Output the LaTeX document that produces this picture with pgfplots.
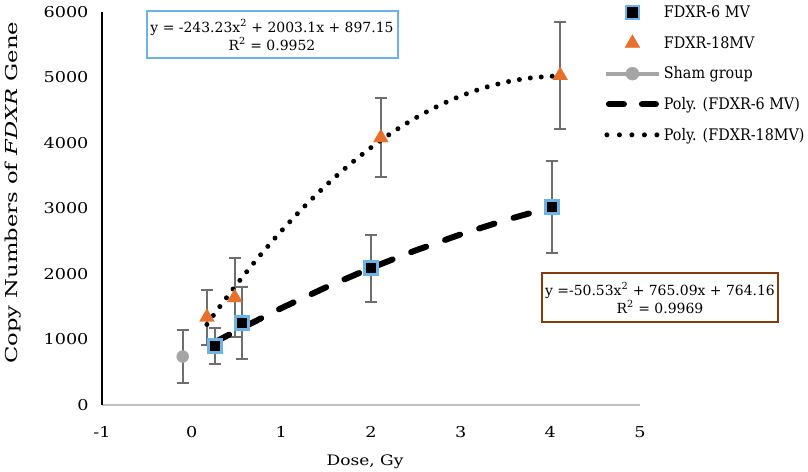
\documentclass[border=0pt]{standalone}
\usepackage{fontspec}
\setmainfont{DejaVu Serif}
\newfontfamily\legfont{DejaVu Serif Condensed}
\newfontfamily\ylabfont{DejaVu Serif}[FakeStretch=1.38]
\newfontfamily\tickfont{DejaVu Serif}[FakeStretch=1.18]
\usepackage{pgfplots}
\usepackage{pgfplotstable}
\pgfplotsset{compat=1.18}
\definecolor{sqblue}{HTML}{6CB4E8}
\definecolor{triorange}{HTML}{E8702A}
\definecolor{errgray}{HTML}{6E6E6E}
\definecolor{shamgray}{HTML}{A5A5A5}
\definecolor{axgray}{HTML}{BFBFBF}
\definecolor{boxbrown}{HTML}{843C0C}

\pgfplotstableread{
x y e
0.26 900 275
0.56 1250 550
2.0 2090 510
4.02 3020 700
}\sixmv
\pgfplotstableread{
x y e
0.17 1340 420
0.48 1640 600
2.11 4080 600
4.11 5030 820
}\eighteenmv
\pgfplotstableread{
x y e
-0.1 740 405
}\sham

\begin{document}
\begin{tikzpicture}
\useasboundingbox (-102bp,-67bp) rectangle (706bp,405bp);
\begin{axis}[
  scale only axis, width=538bp, height=393bp,
  xmin=-1, xmax=5, ymin=0, ymax=6000,
  xtick={-1,0,1,2,3,4,5}, ytick={0,1000,2000,3000,4000,5000,6000},
  axis x line=bottom, axis y line=left,
  x axis line style={draw=axgray, line width=2bp, -},
  y axis line style={draw=black, line width=2bp, -},
  major tick length=0pt,
  /pgf/number format/assume math mode=true,
  /pgf/number format/1000 sep={},
  tick label style={font=\tickfont\fontsize{15}{18}\selectfont},
  xticklabel style={yshift=-18bp},
  yticklabel style={xshift=-10bp},
  xlabel={Dose, Gy},
  xlabel style={font=\tickfont\fontsize{14.5}{17}\selectfont, at={(axis description cs:0.489,-0.145)}, anchor=center},
  ylabel={\ylabfont Copy Numbers of \textit{FDXR} Gene},
  ylabel style={font=\fontsize{16.5}{20}\selectfont, at={(axis description cs:-0.165,0.54)}, anchor=center},
  clip=false,
  legend style={at={(axis description cs:0.927,1.025)}, anchor=north west, draw=none, fill=none,
    font=\legfont\fontsize{16}{19}\selectfont, row sep=14bp, nodes={inner sep=1.5bp}},
  legend cell align=left,
]
% FDXR-6 MV
\addplot[only marks, mark=square*, mark size=6.5bp,
  mark options={fill=black, draw=sqblue, line width=2.4bp},
  legend image code/.code={\draw[mark=square*, mark size=6.5bp, mark options={fill=black, draw=sqblue, line width=2.4bp}] plot coordinates {(26.5bp,0bp)};},
  error bars/.cd, y dir=both, y explicit,
  error bar style={errgray, line width=2bp},
  error mark options={errgray, mark size=6bp, line width=2bp, rotate=90}]
  table[x=x, y=y, y error=e] {\sixmv};
\addlegendentry{FDXR-6 MV}
% FDXR-18MV markers
\addplot[only marks, mark=triangle*, mark size=8.5bp,
  mark options={fill=triorange, draw=triorange},
  legend image code/.code={\draw[mark=triangle*, mark size=8.5bp, mark options={fill=triorange, draw=triorange}] plot coordinates {(26.5bp,0bp)};}]
  table[x=x, y=y] {\eighteenmv};
\addlegendentry{FDXR-18MV}
% Sham
\addplot[only marks, mark=*, mark size=6bp,
  mark options={fill=shamgray, draw=shamgray},
  legend image code/.code={\draw[shamgray, line width=4bp] (0bp,0bp) -- (53bp,0bp); \fill[shamgray] (26.5bp,0bp) circle (6.5bp);},
  error bars/.cd, y dir=both, y explicit,
  error bar style={errgray, line width=2bp},
  error mark options={errgray, mark size=6bp, line width=2bp, rotate=90}]
  table[x=x, y=y, y error=e] {\sham};
\addlegendentry{Sham group}
% FDXR-18MV error bars (over markers)
\addplot[draw=none, mark=none, forget plot,
  error bars/.cd, y dir=both, y explicit,
  error bar style={errgray, line width=2bp},
  error mark options={errgray, mark size=6bp, line width=2bp, rotate=90}]
  table[x=x, y=y, y error=e] {\eighteenmv};
% Poly 6 MV
\addplot[black, line width=6bp, line cap=round, dash pattern=on 16bp off 20bp,
  legend image code/.code={\draw[black, line width=6bp, line cap=round] (3bp,0bp) -- (18bp,0bp) (36bp,0bp) -- (50bp,0bp);}]
  coordinates {(0.26,959.7) (0.5,1134.1) (1.0,1478.7) (1.5,1798.1) (2.0,2092.2) (2.5,2361.1) (3.0,2604.7) (3.5,2823.0) (4.02,3023.5)};
\addlegendentry{Poly. (FDXR-6 MV)}
% Poly 18MV
\addplot[black, line width=5bp, line cap=round, dash pattern=on 0bp off 11bp, smooth,
  legend image code/.code={\draw[black, line width=5bp, line cap=round, dash pattern=on 0bp off 12.5bp] (1bp,0bp) -- (54bp,0bp);}]
  coordinates {(0.17,1230.6) (0.3,1476.2) (0.5,1837.9) (0.75,2262.7) (1.0,2657.0) (1.25,3021.0) (1.5,3354.5) (1.75,3657.7) (2.0,3930.4) (2.25,4172.8) (2.5,4384.7) (2.75,4566.2) (3.0,4717.4) (3.25,4838.1) (3.5,4928.4) (3.75,4988.4) (4.0,5017.9) (4.11,5021.3)};
\addlegendentry{Poly. (FDXR-18MV)}
% equation boxes
\node[draw=sqblue, line width=2bp, fill=white, align=center, font=\fontsize{14}{18}\selectfont,
  minimum width=251bp, minimum height=47bp, inner sep=3bp] at (axis cs:0.896,5649)
  {y = -243.23x\textsuperscript{2} + 2003.1x + 897.15\\R\textsuperscript{2} = 0.9952};
\node[draw=boxbrown, line width=2bp, fill=white, align=center, font=\fontsize{14}{18}\selectfont,
  minimum width=235bp, minimum height=49bp, inner sep=3bp] at (axis cs:5.223,1634)
  {y =-50.53x\textsuperscript{2} + 765.09x + 764.16\\R\textsuperscript{2} = 0.9969};
\end{axis}
\end{tikzpicture}
\end{document}
